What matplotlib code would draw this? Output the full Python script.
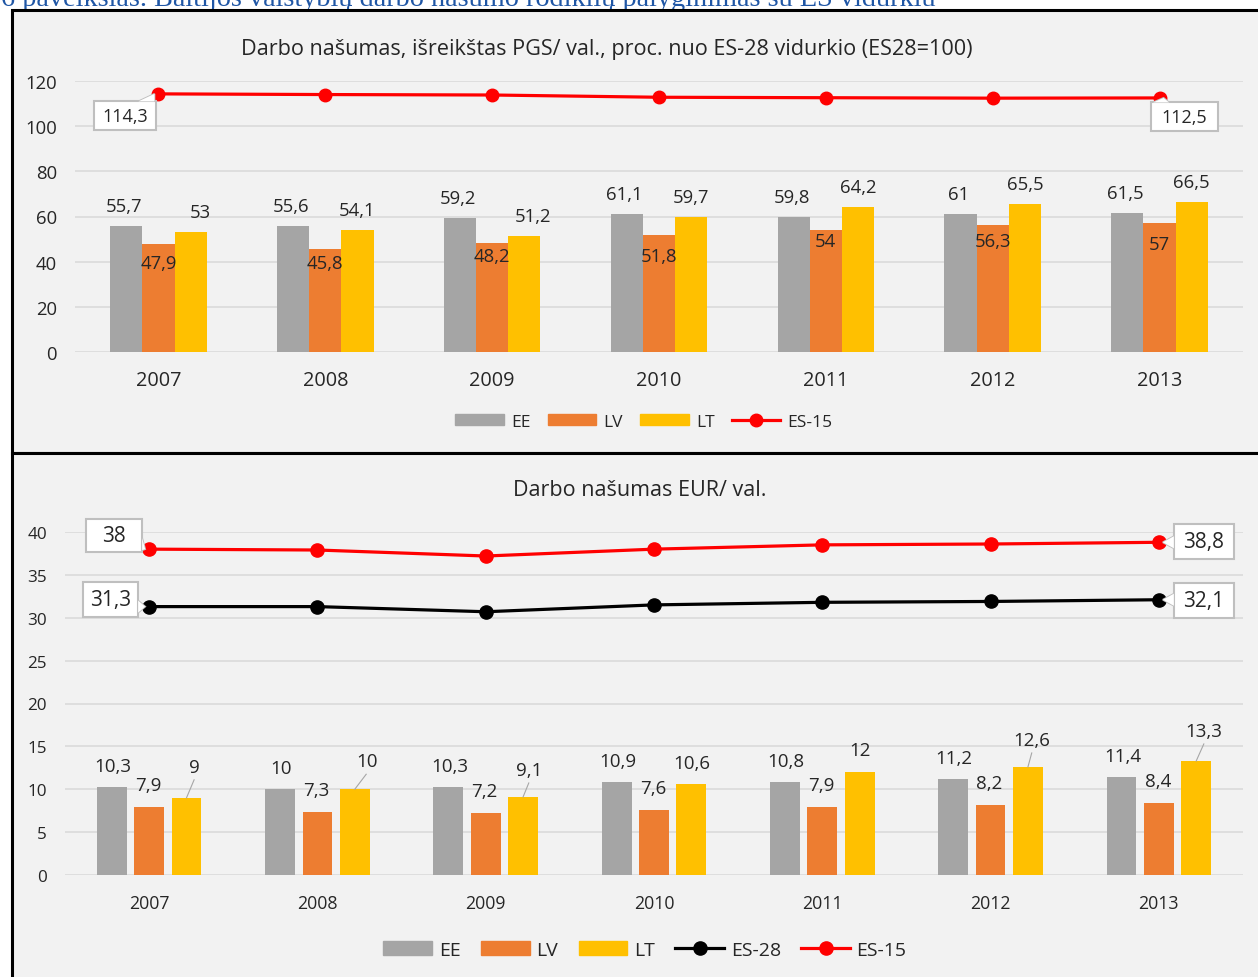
import numpy as np
import matplotlib
matplotlib.use("Agg")
import matplotlib.pyplot as plt
from matplotlib.patches import Rectangle, Polygon
from matplotlib.lines import Line2D
from matplotlib.transforms import ScaledTranslation

# ---------------- data ----------------
years = ["2007", "2008", "2009", "2010", "2011", "2012", "2013"]

# Labour productivity in PPS per hour, % of EU-28 average
pps_ee = [55.7, 55.6, 59.2, 61.1, 59.8, 61.0, 61.5]
pps_lv = [47.9, 45.8, 48.2, 51.8, 54.0, 56.3, 57.0]
pps_lt = [53.0, 54.1, 51.2, 59.7, 64.2, 65.5, 66.5]
pps_es15 = [114.3, 114.0, 113.8, 112.8, 112.6, 112.4, 112.5]

# Labour productivity in EUR per hour
eur_ee = [10.3, 10.0, 10.3, 10.9, 10.8, 11.2, 11.4]
eur_lv = [7.9, 7.3, 7.2, 7.6, 7.9, 8.2, 8.4]
eur_lt = [9.0, 10.0, 9.1, 10.6, 12.0, 12.6, 13.3]
eur_es28 = [31.3, 31.3, 30.7, 31.5, 31.8, 31.9, 32.1]
eur_es15 = [38.0, 37.9, 37.2, 38.0, 38.5, 38.6, 38.8]

top_title = "Darbo našumas, išreikštas PGS/ val., proc. nuo ES-28 vidurkio (ES28=100)"
bottom_title = "Darbo našumas EUR/ val."
caption = "6 paveikslas. Baltijos valstybių darbo našumo rodiklių palyginimas su ES vidurkiu"

# ---------------- style ----------------
W, H = 1258, 978
DPI = 100
C_EE, C_LV, C_LT = "#a5a5a5", "#ed7d31", "#ffc000"
C_RED, C_BLK = "#ff0000", "#000000"
BG = "#f2f2f2"
GRID = "#d9d9d9"
TXT = "#262626"
FONT = "Open Sans"
plt.rcParams["font.family"] = [FONT, "DejaVu Sans"]

fig = plt.figure(figsize=(W / DPI, H / DPI), dpi=DPI)
fig.patch.set_facecolor("white")


def fx(x):
    return x / W


def fy(y):
    return 1 - y / H


def px_rect(x0, y0, x1, y1, **kw):
    fig.patches.append(Rectangle((fx(x0), fy(y1)), fx(x1) - fx(x0), fy(y0) - fy(y1),
                                 transform=fig.transFigure, **kw))


def comma(v):
    s = f"{v:.1f}"
    if s.endswith(".0"):
        s = s[:-2]
    return s.replace(".", ",")


# panels
px_rect(11.5, 11, 1275, 454, facecolor=BG, edgecolor="black", lw=2.2, zorder=-2)
px_rect(11.5, 454, 1275, 1000, facecolor=BG, edgecolor="black", lw=2.2, zorder=-2)

# caption above the panels
fig.text(fx(1), fy(6), caption, family=["Liberation Serif"], fontsize=20.3,
         color="#1f56a5", va="baseline", ha="left", zorder=-3)


def make_axes(x0, y0, x1, y1):
    ax = fig.add_axes([fx(x0), fy(y1), fx(x1) - fx(x0), fy(y0) - fy(y1)])
    ax.set_facecolor("none")
    for s in ax.spines.values():
        s.set_visible(False)
    return ax


def callout(ax, x, y, text, dx, dy, w, h, fs):
    """White labelled box offset (dx, dy) px from the data point, with a pointer."""
    tr = fig.dpi_scale_trans + ScaledTranslation(x, y, ax.transData)
    k = 1.0 / DPI
    left, right = dx - w / 2, dx + w / 2
    bot, top = dy - h / 2, dy + h / 2
    if abs(dy) > h / 2:
        ey = top if dy < 0 else bot
        bx = min(max(0, left + 10), right - 10)
        base = [(bx - 8, ey), (bx + 8, ey)]
    else:
        ex = left if dx > 0 else right
        by = min(max(0, bot + 8), top - 8)
        base = [(ex, by - 6), (ex, by + 6)]
    tip = (4 * np.sign(dx), 0)
    poly = [(base[0][0] * k, base[0][1] * k), (tip[0] * k, tip[1] * k), (base[1][0] * k, base[1][1] * k)]
    ax.add_patch(Polygon(poly, closed=True, transform=tr, facecolor="white",
                         edgecolor="#bfbfbf", lw=1.3, zorder=6, clip_on=False))
    ax.add_patch(Rectangle((left * k, bot * k), w * k, h * k, transform=tr,
                           facecolor="white", edgecolor="#bfbfbf", lw=1.5, zorder=7, clip_on=False))
    ax.add_patch(Polygon(poly, closed=True, transform=tr, facecolor="white",
                         edgecolor="none", zorder=7.5, clip_on=False))
    ax.text(dx * k, dy * k, text, transform=tr, ha="center", va="center",
            fontsize=fs, color=TXT, zorder=8)


def bar_label(ax, x, y, text, dx_px, dy_px, fs, leader=False):
    tr = fig.dpi_scale_trans + ScaledTranslation(x, y, ax.transData)
    k = 1.0 / DPI
    ax.text(dx_px * k, dy_px * k, text, transform=tr, ha="center", va="center",
            fontsize=fs, color=TXT, zorder=5)
    if leader:
        ax.add_line(Line2D([dx_px * k * 0.95, 0], [(dy_px - 13) * k, 0], transform=tr,
                           color="#a6a6a6", lw=0.8, zorder=4))


xs = np.arange(len(years))

# ================= top chart =================
ax1 = make_axes(75, 82, 1243, 353)
ax1.set_xlim(-0.5, len(years) - 0.5)
ax1.set_ylim(0, 120)
ax1.set_yticks(np.arange(0, 121, 20))
for t in np.arange(0, 121, 20):
    ax1.axhline(t, color=GRID, lw=1.1, zorder=0)
ax1.set_xticks(xs)
ax1.set_xticklabels(years, fontsize=14.3, color=TXT)
ax1.tick_params(axis="x", length=0, pad=13)
ax1.tick_params(axis="y", length=0, pad=13, labelsize=13.3, labelcolor=TXT)

bw1 = 0.193
ax1.bar(xs - bw1, pps_ee, bw1, color=C_EE, zorder=2)
ax1.bar(xs, pps_lv, bw1, color=C_LV, zorder=2)
ax1.bar(xs + bw1, pps_lt, bw1, color=C_LT, zorder=2)
ax1.plot(xs, pps_es15, color=C_RED, lw=2.3, marker="o", ms=9, zorder=3)

lv_in_off = [-19, -14, -13, -21, -11, -16, -21]
lt_dx = [10, 0, 9, 0, 0, 0, 0]
for i in range(len(years)):
    bar_label(ax1, xs[i] - bw1, pps_ee[i], comma(pps_ee[i]), -2, 20, 13.3)
    bar_label(ax1, xs[i], pps_lv[i], comma(pps_lv[i]), 0, lv_in_off[i], 13.3)
    bar_label(ax1, xs[i] + bw1, pps_lt[i], comma(pps_lt[i]), lt_dx[i], 20, 13.3)

callout(ax1, xs[0], pps_es15[0], comma(pps_es15[0]), -33, -22, 62, 29, 13)
callout(ax1, xs[-1], pps_es15[-1], comma(pps_es15[-1]), 25, -19, 67, 29, 13)

fig.text(fx(607), fy(49), top_title, ha="center", va="center", fontsize=15.6, color=TXT)

h_top = [Rectangle((0, 0), 1, 1, color=C_EE), Rectangle((0, 0), 1, 1, color=C_LV),
         Rectangle((0, 0), 1, 1, color=C_LT),
         Line2D([], [], color=C_RED, lw=2.3, marker="o", ms=9)]
fig.legend(h_top, ["EE", "LV", "LT", "ES-15"], loc="center", bbox_to_anchor=(fx(644), fy(423)),
           ncol=4, frameon=False, fontsize=12.5, handlelength=2.8, handleheight=0.6,
           handletextpad=0.4, columnspacing=1.0, labelcolor=TXT)

# ================= bottom chart =================
ax2 = make_axes(65, 533, 1243, 876)
ax2.set_xlim(-0.5, len(years) - 0.5)
ax2.set_ylim(0, 40)
ax2.set_yticks(np.arange(0, 41, 5))
for t in np.arange(0, 41, 5):
    ax2.axhline(t, color=GRID, lw=1.1, zorder=0)
ax2.set_xticks(xs)
ax2.set_xticklabels(years, fontsize=12.8, color=TXT)
ax2.tick_params(axis="x", length=0, pad=13.5)
ax2.tick_params(axis="y", length=0, pad=13, labelsize=12.3, labelcolor=TXT)

bw2, off2 = 0.177, 0.222
ax2.bar(xs - off2, eur_ee, bw2, color=C_EE, zorder=2)
ax2.bar(xs, eur_lv, bw2, color=C_LV, zorder=2)
ax2.bar(xs + off2, eur_lt, bw2, color=C_LT, zorder=2)
ax2.plot(xs, eur_es28, color=C_BLK, lw=2.3, marker="o", ms=9.5, zorder=3)
ax2.plot(xs, eur_es15, color=C_RED, lw=2.3, marker="o", ms=9.5, zorder=3)

lt2_dx = [8, 12, 6, 0, 0, 4, 8]
lt2_dy = [31, 28, 27, 21, 22, 27, 30]
for i in range(len(years)):
    bar_label(ax2, xs[i] - off2, eur_ee[i], comma(eur_ee[i]), 1, 21, 13.5)
    bar_label(ax2, xs[i], eur_lv[i], comma(eur_lv[i]), -1, 22, 13.5)
    bar_label(ax2, xs[i] + off2, eur_lt[i], comma(eur_lt[i]), lt2_dx[i], lt2_dy[i], 13.5,
              leader=lt2_dy[i] > 24)

callout(ax2, xs[0], eur_es15[0], comma(eur_es15[0]), -35, 13.5, 56, 33, 15)
callout(ax2, xs[0], eur_es28[0], comma(eur_es28[0]), -38.5, 7.5, 55, 35, 15)
callout(ax2, xs[-1], eur_es15[-1], comma(eur_es15[-1]), 45, 0.5, 60, 35, 15)
callout(ax2, xs[-1], eur_es28[-1], comma(eur_es28[-1]), 45, -0.5, 60, 35, 15)

fig.text(fx(640), fy(490), bottom_title, ha="center", va="center", fontsize=15.5, color=TXT)

h_bot = [Rectangle((0, 0), 1, 1, color=C_EE), Rectangle((0, 0), 1, 1, color=C_LV),
         Rectangle((0, 0), 1, 1, color=C_LT),
         Line2D([], [], color=C_BLK, lw=2.3, marker="o", ms=9.5),
         Line2D([], [], color=C_RED, lw=2.3, marker="o", ms=9.5)]
fig.legend(h_bot, ["EE", "LV", "LT", "ES-28", "ES-15"], loc="center",
           bbox_to_anchor=(fx(645), fy(951)), ncol=5, frameon=False, fontsize=14,
           handlelength=2.5, handleheight=0.7, handletextpad=0.35, columnspacing=1.05,
           labelcolor=TXT)

fig.savefig("out.png", dpi=DPI, facecolor=fig.get_facecolor())
